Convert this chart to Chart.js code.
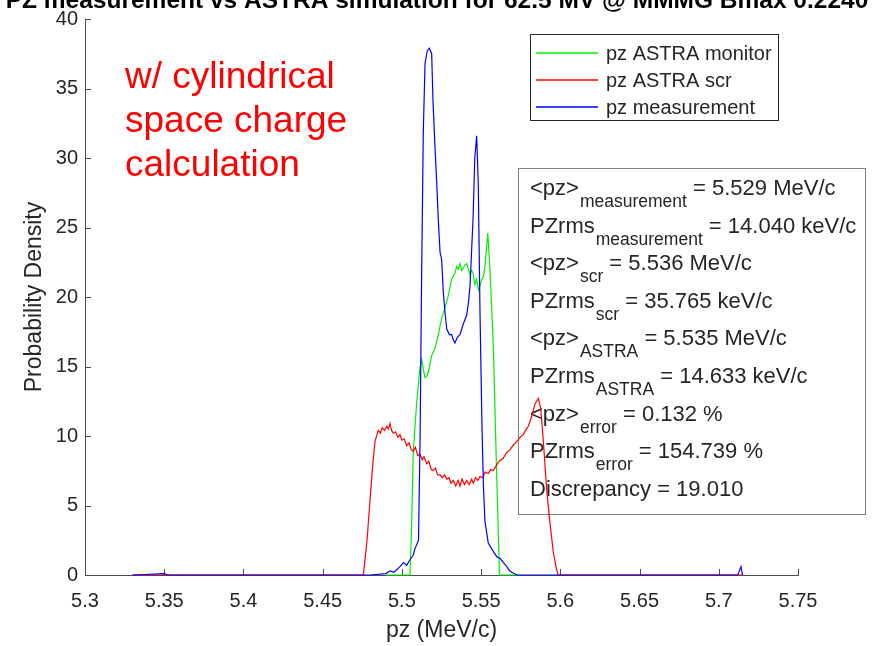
<!DOCTYPE html>
<html>
<head>
<meta charset="utf-8">
<script src="https://cdn.jsdelivr.net/npm/chart.js@4/dist/chart.umd.min.js"></script>
<style>
html, body { margin: 0; padding: 0; background: #fff; overflow: hidden; }
#wrap { position: relative; width: 885px; height: 646px; }
</style>
</head>
<body>
<div id="wrap"><canvas id="pzChart" width="885" height="646"></canvas></div>
<script>
// ---- data ----
const xTicks = [5.3, 5.35, 5.4, 5.45, 5.5, 5.55, 5.6, 5.65, 5.7, 5.75];
const yTicks = [0, 5, 10, 15, 20, 25, 30, 35, 40];

const monitorX = [5.490, 5.5051, 5.5060, 5.5072, 5.5094, 5.5114, 5.5125, 5.5135, 5.5146, 5.5157,
    5.5167, 5.5188, 5.5209, 5.5230, 5.5251, 5.5272, 5.5293, 5.5314, 5.5325, 5.5335,
    5.5346, 5.5356, 5.5367, 5.5378, 5.5388, 5.5398, 5.5409, 5.5420, 5.5430, 5.5440,
    5.5450, 5.5460, 5.5472, 5.5483, 5.5493, 5.5505, 5.5515, 5.5525, 5.5542, 5.5556,
    5.5577, 5.5598, 5.5616, 5.575];
const monitorY = [0, 0, 3, 8.9, 12.5, 14.9, 15.5, 14.8, 14.2, 14.3,
    14.6, 15.8, 16.3, 17.3, 18.5, 19.2, 20.1, 21.3, 21.5, 21.7,
    22.2, 22.0, 22.4, 21.9, 22.1, 22.3, 22.4, 22.0, 21.6, 21.9,
    21.7, 20.9, 21.3, 20.5, 20.8, 21.3, 21.5, 22.3, 24.6, 22.0,
    16.5, 7.3, 0, 0];

const scrX = [5.330, 5.470, 5.4757, 5.4780, 5.4799, 5.4815, 5.4830, 5.4851, 5.4865, 5.4875,
    5.4890, 5.4905, 5.4915, 5.4925, 5.4935, 5.4946, 5.4960, 5.4975, 5.4988, 5.5000,
    5.5015, 5.5030, 5.5045, 5.5060, 5.5072, 5.5085, 5.5100, 5.5114, 5.5128, 5.5140,
    5.5157, 5.5170, 5.5185, 5.5198, 5.5212, 5.5225, 5.5241, 5.5255, 5.5270, 5.5283,
    5.5297, 5.5310, 5.5325, 5.5340, 5.5355, 5.5367, 5.5380, 5.5395, 5.5409, 5.5425,
    5.5440, 5.5451, 5.5465, 5.5480, 5.5493, 5.5510, 5.5525, 5.5545, 5.5560, 5.5575,
    5.5598, 5.5615, 5.5640, 5.5660, 5.5682, 5.5700, 5.5725, 5.5745, 5.5766, 5.5785,
    5.5798, 5.5819, 5.5840, 5.5861, 5.5876, 5.5893, 5.5914, 5.5935, 5.5956, 5.5977,
    5.5987, 5.715];
const scrY = [0, 0, 0, 2.5, 5.4, 7.8, 9.6, 10.4, 10.2, 10.6,
    10.4, 10.7, 10.5, 10.9, 10.4, 10.2, 10.3, 9.9, 10.1, 9.7,
    9.8, 9.3, 9.5, 9.0, 8.9, 9.2, 8.6, 8.7, 8.3, 8.5,
    8.0, 8.2, 7.6, 7.5, 7.7, 7.2, 7.2, 7.0, 7.2, 6.9,
    7.0, 6.6, 6.8, 6.4, 6.8, 6.4, 6.9, 6.5, 6.8, 6.5,
    6.9, 6.6, 7.0, 6.8, 7.1, 7.0, 7.4, 7.3, 7.6, 7.5,
    7.9, 8.2, 8.4, 8.8, 9.0, 9.3, 9.6, 9.9, 10.1, 10.5,
    10.7, 11.4, 12.3, 12.7, 12.0, 9.6, 6.1, 3.7, 1.6, 0.35,
    0, 0];

const measX = [5.330, 5.350, 5.352, 5.480, 5.490, 5.4925, 5.495, 5.4988, 5.501, 5.503,
    5.5051, 5.507, 5.5083, 5.5105, 5.5115, 5.5125, 5.5135, 5.5146, 5.5160, 5.5173,
    5.5188, 5.5196, 5.5208, 5.5220, 5.5230, 5.5241, 5.5251, 5.5261, 5.5272, 5.5283,
    5.5300, 5.5314, 5.5325, 5.5335, 5.5350, 5.5367, 5.5386, 5.5409, 5.5420, 5.5430,
    5.5449, 5.5460, 5.5472, 5.5482, 5.5493, 5.5505, 5.5514, 5.5524, 5.5545, 5.5577,
    5.5600, 5.5619, 5.5640, 5.5662, 5.5680, 5.5693, 5.5725, 5.600, 5.712, 5.714,
    5.715];
const measY = [0, 0.1, 0, 0, 0.1, 0.3, 0.2, 0.6, 0.9, 0.7,
    1.1, 1.4, 1.9, 2.5, 10, 22, 31.8, 36.8, 37.7, 37.9,
    37.5, 34.2, 31.0, 28.2, 25.5, 23.2, 22.7, 20.4, 18.9, 17.7,
    17.3, 17.3, 16.9, 16.7, 17.1, 17.3, 18.0, 18.7, 19.6, 20.8,
    25.6, 30.0, 31.6, 28.2, 18.9, 11.0, 6.6, 3.9, 2.3, 1.7,
    1.3, 1.2, 0.9, 0.6, 0.3, 0.2, 0, 0, 0, 0.6,
    0];

const seriesNames = ['pz ASTRA monitor', 'pz ASTRA scr', 'pz measurement'];
const seriesColors = ['#00f000', '#ff0000', '#0000ff'];

const statLines = [
    ['<pz>', 'measurement', ' = 5.529 MeV/c'],
    ['PZrms', 'measurement', ' = 14.040 keV/c'],
    ['<pz>', 'scr', ' = 5.536 MeV/c'],
    ['PZrms', 'scr', ' = 35.765 keV/c'],
    ['<pz>', 'ASTRA', ' = 5.535 MeV/c'],
    ['PZrms', 'ASTRA', ' = 14.633 keV/c'],
    ['<pz>', 'error', ' = 0.132 %'],
    ['PZrms', 'error', ' = 154.739 %'],
    ['Discrepancy = 19.010', '', '']
];
const noteLines = ['w/ cylindrical', 'space charge', 'calculation'];
const titleText = 'PZ measurement vs ASTRA simulation for 62.5 MV @ MMMG Bmax 0.2240';

const FONT = "'Liberation Sans', Arial, sans-serif";
const textColor = '#262626';
const axisColor = '#4d4d4d';

function toPoints(xs, ys) {
    return xs.map((x, i) => ({x: x, y: ys[i]}));
}

// matlab style ticks pointing into the axes
const innerTicks = {
    id: 'innerTicks',
    beforeDatasetsDraw(chart) {
        const {ctx, chartArea, scales} = chart;
        ctx.save();
        ctx.strokeStyle = axisColor;
        ctx.lineWidth = 1;
        ctx.beginPath();
        xTicks.forEach(v => {
            const px = Math.round(scales.x.getPixelForValue(v)) + 0.5;
            ctx.moveTo(px, chartArea.bottom);
            ctx.lineTo(px, chartArea.bottom - 6);
        });
        yTicks.forEach(v => {
            const py = Math.round(scales.y.getPixelForValue(v)) + 0.5;
            ctx.moveTo(chartArea.left, py);
            ctx.lineTo(chartArea.left + 6, py);
        });
        ctx.stroke();
        ctx.restore();
    }
};

const statsBox = {
    id: 'statsBox',
    beforeDatasetsDraw(chart) {
        const ctx = chart.ctx;
        ctx.save();
        ctx.strokeStyle = '#7f7f7f';
        ctx.lineWidth = 1;
        ctx.strokeRect(518.5, 168.5, 347, 346);
        ctx.fillStyle = textColor;
        ctx.textBaseline = 'alphabetic';
        statLines.forEach((ln, i) => {
            const yb = 195 + i * 37.6;
            let x = 530;
            ctx.font = '22px ' + FONT;
            ctx.fillText(ln[0], x, yb);
            x += ctx.measureText(ln[0]).width + 1;
            if (ln[1]) {
                ctx.font = '17.5px ' + FONT;
                ctx.fillText(ln[1], x, yb + 12);
                x += ctx.measureText(ln[1]).width;
            }
            if (ln[2]) {
                ctx.font = '22px ' + FONT;
                ctx.fillText(ln[2], x, yb);
            }
        });
        ctx.restore();
    }
};

const overlay = {
    id: 'overlay',
    afterDraw(chart) {
        const ctx = chart.ctx;
        ctx.save();
        // clipped title at the very top
        ctx.fillStyle = '#000';
        ctx.font = 'bold 24.5px ' + FONT;
        ctx.textAlign = 'center';
        ctx.textBaseline = 'alphabetic';
        ctx.fillText(titleText, 437, 8);

        // red note
        ctx.textAlign = 'left';
        ctx.fillStyle = '#ff0000';
        ctx.font = '37px ' + FONT;
        noteLines.forEach((t, i) => ctx.fillText(t, 125, 88 + i * 44));

        // legend
        ctx.fillStyle = '#fff';
        ctx.fillRect(530, 34, 248, 86);
        ctx.strokeStyle = '#262626';
        ctx.lineWidth = 1;
        ctx.strokeRect(530.5, 34.5, 248, 86);
        ctx.font = '20px ' + FONT;
        ctx.textBaseline = 'middle';
        chart.data.datasets.forEach((ds, i) => {
            const yy = 53 + i * 27;
            ctx.strokeStyle = seriesColors[i];
            ctx.lineWidth = 1.4;
            ctx.beginPath();
            ctx.moveTo(536, yy);
            ctx.lineTo(598, yy);
            ctx.stroke();
            ctx.fillStyle = textColor;
            ctx.fillText(ds.label, 606, yy + 1);
        });
        ctx.restore();
    }
};

new Chart(document.getElementById('pzChart'), {
    type: 'line',
    data: {
        datasets: [
            {label: seriesNames[0], data: toPoints(monitorX, monitorY), borderColor: seriesColors[0], order: 3},
            {label: seriesNames[1], data: toPoints(scrX, scrY), borderColor: seriesColors[1], order: 2},
            {label: seriesNames[2], data: toPoints(measX, measY), borderColor: seriesColors[2], order: 1}
        ]
    },
    options: {
        responsive: false,
        animation: false,
        devicePixelRatio: 1,
        layout: {padding: {left: 0, right: 87, top: 15, bottom: 0}},
        elements: {
            line: {borderWidth: 1.2, tension: 0, fill: false},
            point: {radius: 0}
        },
        datasets: {line: {clip: false}},
        plugins: {
            legend: {display: false},
            tooltip: {enabled: false},
            title: {display: false}
        },
        scales: {
            x: {
                type: 'linear',
                min: 5.3,
                max: 5.75,
                afterFit: s => { s.height = 71; },
                afterBuildTicks: s => { s.ticks = xTicks.map(v => ({value: v})); },
                ticks: {
                    padding: 14,
                    color: textColor,
                    font: {family: FONT, size: 20},
                    maxRotation: 0,
                    autoSkip: false,
                    callback: v => String(+v.toFixed(2))
                },
                grid: {drawOnChartArea: false, drawTicks: false},
                border: {display: true, color: axisColor, width: 1},
                title: {
                    display: true,
                    text: 'pz (MeV/c)',
                    color: textColor,
                    font: {family: FONT, size: 23},
                    padding: {top: 0, bottom: 2}
                }
            },
            y: {
                min: 0,
                max: 40,
                afterFit: s => { s.width = 85; },
                afterBuildTicks: s => { s.ticks = yTicks.map(v => ({value: v})); },
                ticks: {
                    padding: 7,
                    color: textColor,
                    font: {family: FONT, size: 20},
                    autoSkip: false
                },
                grid: {drawOnChartArea: false, drawTicks: false},
                border: {display: true, color: axisColor, width: 1},
                title: {
                    display: true,
                    text: 'Probability Density',
                    color: textColor,
                    font: {family: FONT, size: 23},
                    padding: {top: 21, bottom: 0}
                }
            }
        }
    },
    plugins: [innerTicks, statsBox, overlay]
});
</script>
</body>
</html>
